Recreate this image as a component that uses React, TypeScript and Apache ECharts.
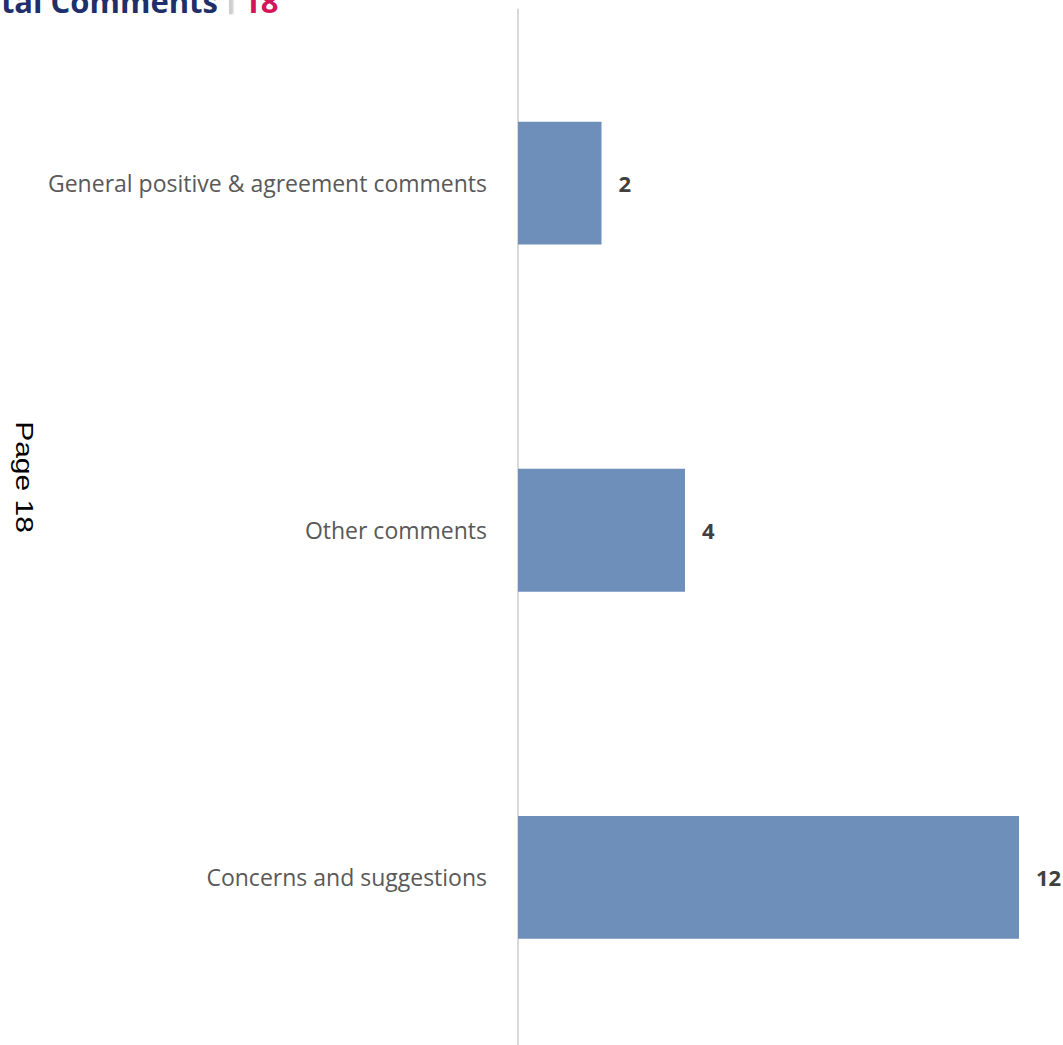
import React, { useEffect, useRef } from "react";
import * as echarts from "echarts";

const categories = [
  "Concerns and suggestions",
  "Other comments",
  "General positive & agreement comments",
];
const values = [12, 4, 2];
const titleText = "Total Comments";
const totalText = "18";
const pageText = "Page 18";

export default function App() {
  const ref = useRef<HTMLDivElement>(null);
  useEffect(() => {
    if (!ref.current) return;
    const chart = echarts.init(ref.current, null, { renderer: "svg" });
    chart.setOption({
      animation: false,
      backgroundColor: "#ffffff",
      grid: { left: 518, right: 44, top: 9.5, bottom: 0, containLabel: false },
      xAxis: {
        type: "value",
        min: 0,
        max: 12,
        show: false,
      },
      yAxis: {
        type: "category",
        data: categories,
        axisLine: { show: true, lineStyle: { color: "#d9d9d9", width: 2 } },
        axisTick: { show: false },
        axisLabel: {
          color: "#595959",
          fontSize: 23,
          fontFamily: "Open Sans",
          margin: 31,
        },
      },
      series: [
        {
          type: "bar",
          data: values,
          barWidth: "35.4%",
          itemStyle: { color: "#6d8fb9" },
          label: {
            show: true,
            position: "right",
            distance: 17,
            color: "#404040",
            fontWeight: "bold",
            fontSize: 22,
            fontFamily: "Open Sans",
          },
        },
      ],
      graphic: [
        {
          type: "text",
          x: 218,
          y: 1,
          style: {
            text: titleText,
            fill: "#1f2f6b",
            font: "bold 31px 'Open Sans'",
            textAlign: "right",
            textVerticalAlign: "middle",
          },
        },
        {
          type: "rect",
          shape: { x: 229, y: -5, width: 3, height: 19 },
          style: { fill: "#cfcfcf", shadowBlur: 2, shadowColor: "rgba(0,0,0,0.25)", shadowOffsetX: 1 },
        },
        {
          type: "text",
          x: 243,
          y: 1,
          style: {
            text: totalText,
            fill: "#d4145a",
            font: "bold 31px 'Open Sans'",
            textAlign: "left",
            textVerticalAlign: "middle",
          },
        },
        {
          type: "text",
          x: 24,
          y: 477,
          rotation: -Math.PI / 2,
          scaleX: 1.25,
          style: {
            text: pageText,
            fill: "#000000",
            font: "24px 'Liberation Sans'",
            textAlign: "center",
            textVerticalAlign: "middle",
          },
        },
      ],
    });
    return () => chart.dispose();
  }, []);
  return (
    <div style={{ position: "absolute", left: 0, top: 0, width: 1063, height: 1045, overflow: "hidden" }}>
      <div ref={ref} style={{ width: 1063, height: 1051 }} />
    </div>
  );
}
